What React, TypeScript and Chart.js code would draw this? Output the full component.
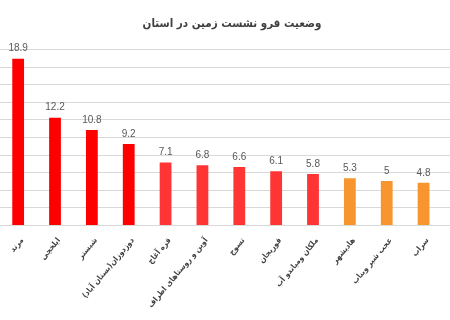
import React, { useEffect, useRef } from "react";
import { Chart, registerables } from "chart.js";

Chart.register(...registerables);

const chartTitle = "وضعیت فرو نشست زمین در استان";
const categories = [
  "مرند",
  "ایلخچی",
  "شبستر",
  "دوزدوزان(بستان آباد)",
  "قره آغاج",
  "آوین و روستاهای اطراف",
  "تسوج",
  "قوریجان",
  "ملکان ومیاندو آب",
  "هادیشهر",
  "عجب شیر وبناب",
  "سراب",
];
const values = [18.9, 12.2, 10.8, 9.2, 7.1, 6.8, 6.6, 6.1, 5.8, 5.3, 5, 4.8];
const barColors = [
  "#FF0000", "#FF0000", "#FF0000", "#FF0000",
  "#FF3535", "#FF3535", "#FF3535", "#FF3535", "#FF3535",
  "#F7962F", "#F7962F", "#F7962F",
];
const yMin = 0;
const yMax = 20;
const yStep = 2;

const gridPlugin = {
  id: "fullGrid",
  beforeDatasetsDraw(chart: any) {
    const { ctx } = chart;
    const y = chart.scales.y;
    ctx.save();
    ctx.strokeStyle = "#d9d9d9";
    ctx.lineWidth = 1;
    y.ticks.forEach((t: any) => {
      const py = Math.round(y.getPixelForValue(t.value)) + 0.5;
      ctx.beginPath();
      ctx.moveTo(chart.chartArea.left, py);
      ctx.lineTo(chart.width, py);
      ctx.stroke();
    });
    ctx.restore();
  },
};

const labelPlugin = {
  id: "valueLabels",
  afterDatasetsDraw(chart: any) {
    const { ctx } = chart;
    const meta = chart.getDatasetMeta(0);
    ctx.save();
    ctx.fillStyle = "#595959";
    ctx.font = "10px 'Liberation Sans Narrow', 'Liberation Sans', sans-serif";
    ctx.textAlign = "center";
    ctx.textBaseline = "bottom";
    meta.data.forEach((bar: any, i: number) => {
      ctx.fillText(String(values[i]), bar.x, bar.y - 5);
    });
    ctx.restore();
  },
};

const titlePlugin = {
  id: "customTitle",
  afterDraw(chart: any) {
    const { ctx } = chart;
    ctx.save();
    ctx.fillStyle = "#404040";
    ctx.font = "bold 11.5px 'DejaVu Sans Condensed', 'DejaVu Sans', sans-serif";
    ctx.textAlign = "center";
    ctx.textBaseline = "middle";
    ctx.fillText(chartTitle, 235, 24);
    ctx.restore();
  },
};

export default function App() {
  const ref = useRef<HTMLCanvasElement>(null);
  useEffect(() => {
    document.body.style.margin = "0";
    const chart = new Chart(ref.current!, {
      type: "bar",
      data: {
        labels: categories,
        datasets: [
          {
            data: values,
            backgroundColor: barColors,
            borderWidth: 0,
            categoryPercentage: 1,
            barPercentage: 0.32,
          },
        ],
      },
      options: {
        responsive: false,
        animation: false,
        devicePixelRatio: 1,
        layout: { padding: { top: 49, right: 8, left: 0, bottom: 0 } },
        plugins: {
          legend: { display: false },
          title: { display: false },
          tooltip: { enabled: false },
        },
        scales: {
          x: {
            grid: { display: false, drawTicks: false },
            border: { display: false },
            ticks: {
              minRotation: 50,
              maxRotation: 50,
              autoSkip: false,
              padding: 11,
              labelOffset: 4,
              color: "#404040",
              font: { family: "'DejaVu Sans Condensed', 'DejaVu Sans', sans-serif", size: 8, weight: "bold" },
            },
            afterFit: (scale: any) => {
              scale.height = 95;
            },
          },
          y: {
            display: false,
            min: yMin,
            max: yMax,
            ticks: { stepSize: yStep },
          },
        },
      },
      plugins: [gridPlugin, labelPlugin, titlePlugin],
    });
    return () => chart.destroy();
  }, []);
  return (
    <div style={{ position: "relative", width: 450, height: 320, overflow: "hidden", background: "#fff" }}>
      <canvas
        ref={ref}
        width={453}
        height={320}
        style={{ position: "absolute", left: -3, top: 0, width: 453, height: 320 }}
      />
    </div>
  );
}
